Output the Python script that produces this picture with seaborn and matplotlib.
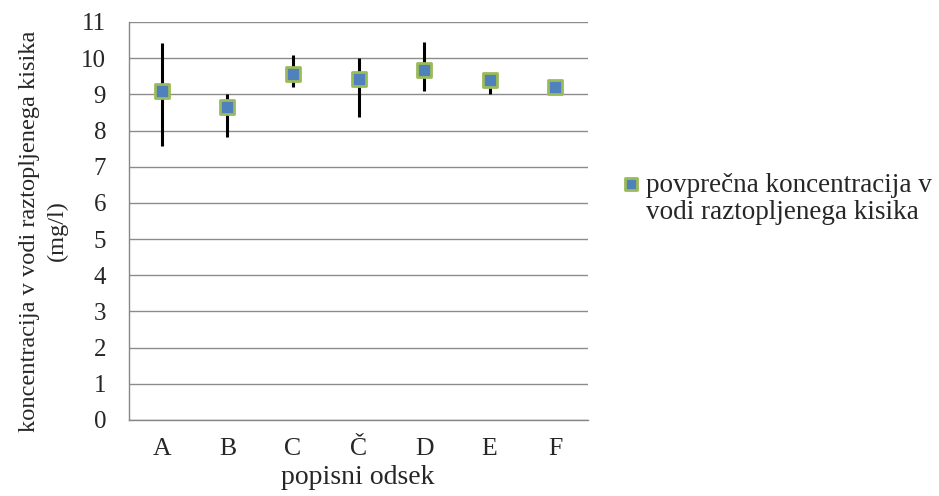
import numpy as np
import pandas as pd
import matplotlib
matplotlib.use('Agg')
import matplotlib.pyplot as plt
import seaborn as sns

# values
odseki = ['A', 'B', 'C', 'Č', 'D', 'E', 'F']
povprecje = [9.08, 8.64, 9.55, 9.42, 9.66, 9.39, 9.19]
minimum = [7.56, 7.83, 9.19, 8.37, 9.10, 9.00, 9.12]
maksimum = [10.41, 9.00, 10.10, 10.00, 10.44, 9.55, 9.26]

legenda = ['povprečna koncentracija v', 'vodi raztopljenega kisika']

df = pd.DataFrame({'odsek': odseki, 'povprecje': povprecje,
                   'min': minimum, 'max': maksimum})
df['pos'] = np.arange(len(df))

sns.set_style('white')
plt.rcParams['font.family'] = ['Liberation Serif', 'DejaVu Serif']

W, H = 939, 496
fig = plt.figure(figsize=(W / 100, H / 100), dpi=100)
ax = fig.add_axes([129 / W, 1 - 420 / H, 459 / W, 398 / H])

# min/max error bars
err = [df['povprecje'] - df['min'], df['max'] - df['povprecje']]
ax.errorbar(df['pos'], df['povprecje'], yerr=err, fmt='none',
            ecolor='black', elinewidth=2.2, capsize=0, zorder=2)

sns.scatterplot(data=df, x='pos', y='povprecje', marker='s', s=95,
                color='#4F81BD', edgecolor='#9BBB59', linewidth=2,
                label=legenda[0], ax=ax, zorder=3, legend=True)

ax.set_ylim(0, 11)
ax.set_yticks(range(0, 12))
ax.set_xlim(-0.5, len(odseki) - 0.5)
ax.set_xticks(df['pos'])
ax.set_xticklabels(odseki)
ax.set_xticks(np.arange(-0.5, len(odseki)), minor=True)
ax.tick_params(axis='x', which='major', length=0, labelsize=18.5, pad=13)
ax.tick_params(axis='x', which='minor', length=5, width=1, color='#868686', direction='out')
ax.tick_params(axis='y', length=4.5, width=1, color='#868686', direction='out',
               labelsize=18, pad=12)
ax.yaxis.grid(True, color='#8c8c8c', linewidth=1)
ax.set_axisbelow(True)

for side in ['top', 'right']:
    ax.spines[side].set_visible(False)
for side in ['left', 'bottom']:
    ax.spines[side].set_color('#868686')
    ax.spines[side].set_linewidth(1)

ax.set_xlabel('popisni odsek', fontsize=20)
ax.xaxis.set_label_coords(0.498, -0.112)
ax.set_ylabel('koncentracija v vodi raztopljenega kisika\n(mg/l)', fontsize=17.6,
              linespacing=1.4)
ax.yaxis.set_label_coords(-0.133, 0.475)

handles, labels = ax.get_legend_handles_labels()
ax.legend_.remove()
leg = fig.legend(handles, labels, loc='center left', bbox_to_anchor=(624 / W, 1 - 185 / H),
                 frameon=False, fontsize=19.5, handlelength=0.55, handletextpad=0.25,
                 borderaxespad=0, borderpad=0, markerscale=0.9)

# second line of the legend label, under the first one
fig.canvas.draw()
bb = leg.get_texts()[0].get_window_extent()
fig.text(bb.x0 / W, (bb.y0 + bb.y1) / 2 / H - 28 / H, legenda[1],
         fontsize=19.5, va='center', ha='left')

fig.savefig('out.png', dpi=100)
